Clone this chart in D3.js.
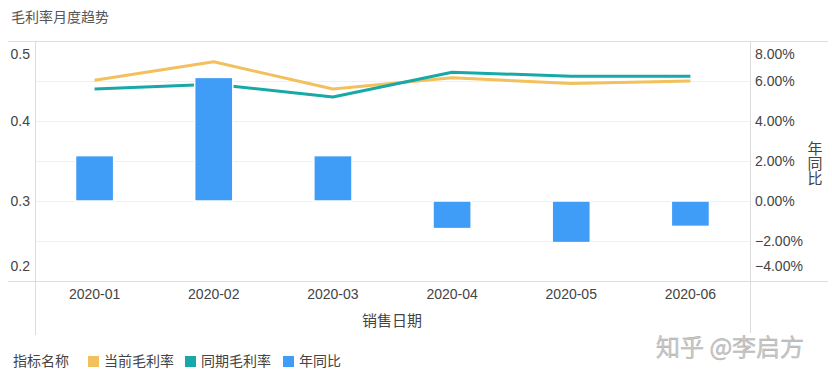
<!DOCTYPE html>
<html>
<head>
<meta charset="utf-8">
<script src="https://cdn.jsdelivr.net/npm/d3@7"></script>
<style>
  html, body { margin: 0; padding: 0; background: #fff; }
  svg { display: block; font-family: "Microsoft YaHei", "Noto Sans CJK SC", "Noto Sans", sans-serif; }
</style>
</head>
<body>
<svg id="chart" width="832" height="380"></svg>
<script>
const categories = ['2020-01', '2020-02', '2020-03', '2020-04', '2020-05', '2020-06'];
const currentMargin = [0.451, 0.474, 0.440, 0.454, 0.447, 0.450];
const priorMargin = [0.440, 0.446, 0.430, 0.461, 0.456, 0.456];
const yoy = [0.0227, 0.0618, 0.0227, -0.0138, -0.0208, -0.0127];
const leftTicks = [0.2, 0.3, 0.4, 0.5];
const rightTicks = [-0.04, -0.02, 0, 0.02, 0.04, 0.06, 0.08];
const seriesNames = ['当前毛利率', '同期毛利率', '年同比'];
const colors = ['#F2C05C', '#17A9A7', '#3F9CF7'];

const svg = d3.select('#chart');
const L = 35, R = 750, T = 41, B = 281;

const x = d3.scaleBand().domain(categories).range([L, R]).paddingInner(0).paddingOuter(0);
const yL = d3.scaleLinear().domain([0.2, 0.5]).range([B, T]);
const yR = d3.scaleLinear().domain([-0.04, 0.08]).range([B, T]);

// title
svg.append('text').attr('x', 11).attr('y', 22).attr('font-size', 14).attr('fill', '#555').text('毛利率月度趋势');

// gridlines
svg.append('g').selectAll('line').data(rightTicks.filter(d => d > -0.04 && d < 0.08)).join('line')
  .attr('x1', L).attr('x2', R).attr('y1', d => Math.round(yR(d)) + 0.5).attr('y2', d => Math.round(yR(d)) + 0.5)
  .attr('stroke', '#f0f0f0').attr('stroke-width', 1);
[T, B].forEach(y => {
  svg.append('line').attr('x1', 8).attr('x2', 828).attr('y1', y + 0.5).attr('y2', y + 0.5)
    .attr('stroke', '#dedede').attr('stroke-width', 1);
});
svg.append('line').attr('x1', L + 0.5).attr('x2', L + 0.5).attr('y1', T).attr('y2', 335).attr('stroke', '#dcdcdc');
svg.append('line').attr('x1', R + 0.5).attr('x2', R + 0.5).attr('y1', T).attr('y2', 333).attr('stroke', '#dcdcdc');

// left axis
const gL = svg.append('g').attr('transform', `translate(${L},0)`)
  .call(d3.axisLeft(yL).tickValues(leftTicks).tickSize(0).tickPadding(5).tickFormat(d3.format('.1f')));
gL.select('.domain').remove();
gL.selectAll('text').attr('font-size', 14).attr('fill', '#444').attr('font-family', null)
  .attr('dy', d => d === 0.5 ? '1.25em' : d === 0.2 ? '-0.75em' : '0.32em');

// right axis
const gR = svg.append('g').attr('transform', `translate(${R},0)`)
  .call(d3.axisRight(yR).tickValues(rightTicks).tickSize(0).tickPadding(5).tickFormat(d3.format('.2%')));
gR.select('.domain').remove();
gR.selectAll('text').attr('font-size', 14).attr('fill', '#444').attr('font-family', null)
  .attr('dy', d => d === 0.08 ? '1.25em' : d === -0.04 ? '-0.75em' : '0.32em');

// right axis title (vertical text)
svg.append('text').attr('x', 815).attr('y', 141)
  .attr('font-size', 15).attr('fill', '#444')
  .style('writing-mode', 'vertical-rl').style('text-orientation', 'upright')
  .text('年同比');

// x axis
const gX = svg.append('g').attr('transform', `translate(0,${B})`)
  .call(d3.axisBottom(x).tickSize(0).tickPadding(8));
gX.select('.domain').remove();
gX.selectAll('text').attr('font-size', 14).attr('fill', '#444').attr('font-family', null);

svg.append('text').attr('x', 392).attr('y', 326).attr('text-anchor', 'middle')
  .attr('font-size', 15).attr('fill', '#444').text('销售日期');

// lines
const cx = c => x(c) + x.bandwidth() / 2;
const lineL = d3.line().x((d, i) => cx(categories[i])).y(d => yL(d));
svg.append('path').datum(currentMargin).attr('d', lineL).attr('fill', 'none')
  .attr('stroke', colors[0]).attr('stroke-width', 3).attr('stroke-linejoin', 'round');
svg.append('path').datum(priorMargin).attr('d', lineL).attr('fill', 'none')
  .attr('stroke', colors[1]).attr('stroke-width', 3).attr('stroke-linejoin', 'round');

// bars
const bw = x.bandwidth() * 0.32;
svg.append('g').selectAll('rect').data(yoy).join('rect')
  .attr('x', (d, i) => cx(categories[i]) - bw / 2)
  .attr('width', bw)
  .attr('y', d => Math.min(yR(d), yR(0)))
  .attr('height', d => Math.abs(yR(d) - yR(0)))
  .attr('fill', colors[2])
  .attr('stroke', '#fff').attr('stroke-width', 1.5);

// legend
const lg = svg.append('g').attr('font-size', 14).attr('fill', '#444');
lg.append('text').attr('x', 13).attr('y', 366).text('指标名称');
const legendX = [88, 185, 283];
seriesNames.forEach((n, i) => {
  lg.append('rect').attr('x', legendX[i]).attr('y', 356).attr('width', 11).attr('height', 11).attr('fill', colors[i]);
  lg.append('text').attr('x', legendX[i] + 16).attr('y', 366).text(n);
});

// watermark
svg.append('text').attr('x', 656).attr('y', 356).attr('font-size', 24)
  .attr('fill', '#c9c9c9').attr('stroke', '#aaa').attr('stroke-width', 0.4).text('知乎 @李启方');
</script>
</body>
</html>
